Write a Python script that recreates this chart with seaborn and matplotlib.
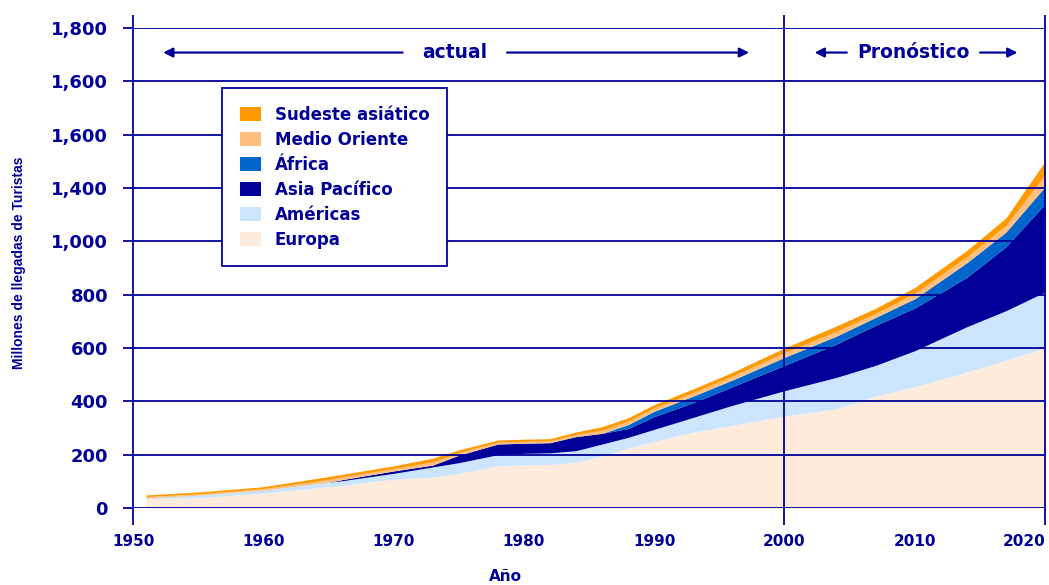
import numpy as np
import pandas as pd
import seaborn as sns
import matplotlib.pyplot as plt

# Llegadas de turistas (millones) por región, valores apilados
years = [1951, 1955, 1960, 1965, 1966, 1970, 1973, 1975, 1978, 1980, 1982, 1984,
         1986, 1988, 1990, 1993, 1996, 2000, 2004, 2007, 2010, 2014, 2017, 2020]
europa = [35, 38, 56, 80, 84, 108, 116, 130, 158, 162, 163, 172,
          195, 225, 250, 285, 310, 345, 372, 420, 455, 510, 555, 600]
americas = [3, 10, 11, 17, 18, 22, 38, 40, 42, 43, 44, 43,
            45, 40, 45, 55, 75, 95, 118, 115, 135, 170, 185, 210]
asia_pacifico = [0, 0, 0, 0, 4, 9, 7, 28, 40, 38, 38, 53,
                 40, 33, 48, 55, 70, 95, 125, 150, 160, 185, 240, 330]
africa = [0, 0, 0, 0, 0, 0, 0, 0, 0, 0, 0, 0,
          0, 15, 20, 25, 25, 30, 30, 30, 35, 55, 55, 65]
medio_oriente = [5, 5, 6, 10, 10, 9, 12, 10, 7, 7, 7, 8,
                 12, 12, 12, 13, 14, 18, 18, 15, 20, 22, 25, 45]
sudeste_asiatico = [6, 7, 7, 11, 10, 10, 14, 10, 8, 8, 8, 9,
                    13, 13, 13, 14, 15, 17, 20, 19, 22, 24, 28, 50]

regions = ["Europa", "Américas", "Asia Pacífico", "África",
           "Medio Oriente", "Sudeste asiático"]
colors = ["#FFEBDC", "#CCE5FF", "#000099", "#0066CC", "#FFBF80", "#FF9900"]

ytick_vals = [0, 200, 400, 600, 800, 1000, 1200, 1400, 1600, 1800]
ytick_labels = ["0", "200", "400", "600", "800", "1,000", "1,400", "1,600", "1,600", "1,800"]
xtick_vals = [1950, 1960, 1970, 1980, 1990, 2000, 2010, 2020]

df = pd.DataFrame({
    "Año": years,
    "Europa": europa,
    "Américas": americas,
    "Asia Pacífico": asia_pacifico,
    "África": africa,
    "Medio Oriente": medio_oriente,
    "Sudeste asiático": sudeste_asiatico,
})

sns.set_theme(style="white")
plt.rcParams["font.family"] = ["DejaVu Sans"]
navy = "#000099"

fig = plt.figure(figsize=(10.49, 5.85), dpi=100)
ax = fig.add_axes([0.1268, 0.1316, 0.8694, 0.8205])

ax.stackplot(df["Año"], [df[r] for r in regions], colors=colors,
             labels=regions, linewidth=0)

ax.set_xlim(1950, 2020)
ax.set_ylim(0, 1800)

# grid lines and vertical markers
for v in ytick_vals:
    ax.axhline(v, color=navy, lw=1.3, zorder=3)
for xv in [1950, 2000, 2020]:
    ax.vlines(xv, -64, 1850, color=navy, lw=1.3, clip_on=False, zorder=4)

for s in ax.spines.values():
    s.set_visible(False)

ax.set_yticks(ytick_vals)
ax.set_yticklabels(ytick_labels)
ax.set_xticks(xtick_vals)
ax.tick_params(axis="y", length=7, width=1.3, color=navy, pad=11,
               labelsize=13, labelcolor=navy, left=True)
ax.tick_params(axis="x", length=0, pad=19, labelsize=11, labelcolor=navy, bottom=True)
for lab in ax.get_xticklabels() + ax.get_yticklabels():
    lab.set_fontweight("bold")
ax.get_xticklabels()[-1].set_horizontalalignment("right")

ax.set_xlabel("Año", fontsize=11, fontweight="bold", color=navy, va="center")
ax.xaxis.set_label_coords(0.408, -0.143)
ax.set_ylabel("Millones de llegadas de Turistas", fontsize=10, fontweight="bold",
              color=navy, family=["Liberation Sans Narrow", "Liberation Sans", "DejaVu Sans"],
              va="center")
ax.yaxis.set_label_coords(-0.125, 0.512)

# periods
ax.text(1974.7, 1708, "actual", ha="center", va="center", fontsize=13.5,
        fontweight="bold", color=navy)
ax.text(2009.9, 1708, "Pronóstico", ha="center", va="center", fontsize=13.5,
        fontweight="bold", color=navy)
arrow = dict(arrowstyle="-|>", color=navy, lw=1.6, mutation_scale=14)
ax.annotate("", xy=(1952.1, 1708), xytext=(1970.9, 1708), arrowprops=arrow)
ax.annotate("", xy=(1997.5, 1708), xytext=(1978.5, 1708), arrowprops=arrow)
ax.annotate("", xy=(2002.1, 1708), xytext=(2005.0, 1708), arrowprops=arrow)
ax.annotate("", xy=(2018.1, 1708), xytext=(2014.8, 1708), arrowprops=arrow)

handles, labels = ax.get_legend_handles_labels()
leg = ax.legend(handles[::-1], labels[::-1], loc="upper left",
                bbox_to_anchor=(0.0976, 0.875), fontsize=12, frameon=True,
                fancybox=False, framealpha=1, edgecolor=navy, borderpad=1.05,
                handlelength=1.3, handleheight=0.9, handletextpad=0.8,
                labelspacing=0.42, borderaxespad=0)
leg.get_frame().set_linewidth(1.3)
for t in leg.get_texts():
    t.set_color(navy)
    t.set_fontweight("bold")

fig.savefig("out.png", dpi=100, facecolor="white")
